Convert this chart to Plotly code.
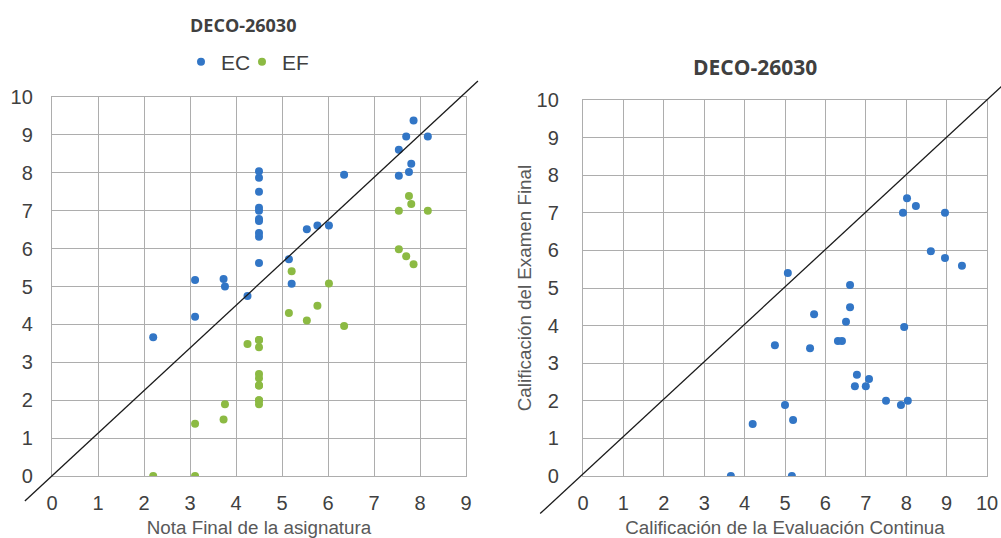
import plotly.graph_objects as go

# ---- data: one entry per student ----
nota_final = [7.76, 7.81, 7.54, 8.17, 7.54, 7.70, 7.86, 5.21, 6.02, 5.77, 5.15, 5.54, 6.35, 4.25,
              4.5, 4.5, 4.5, 4.5, 4.5, 4.5, 4.5, 4.5, 4.5, 4.5,
              3.76, 3.11, 3.73, 3.11, 2.20]
ec = [8.02, 8.24, 7.92, 8.96, 8.61, 8.96, 9.38, 5.07, 6.61, 6.61, 5.72, 6.51, 7.95, 4.75,
      5.62, 6.31, 6.41, 6.78, 7.08, 6.73, 7.00, 7.50, 7.87, 8.04,
      5.00, 4.20, 5.20, 5.17, 3.66]
ef = [7.39, 7.18, 7.00, 7.00, 5.98, 5.80, 5.59, 5.40, 5.08, 4.49, 4.30, 4.10, 3.96, 3.48,
      3.40, 3.59, 3.59, 2.69, 2.58, 2.39, 2.39, 2.00, 1.89, 2.00,
      1.89, 1.38, 1.49, 0.00, 0.00]

title_text = "DECO-26030"
series_names = ["EC", "EF"]
left_x_title = "Nota Final de la asignatura"
right_x_title = "Calificación de la Evaluación Continua"
right_y_title = "Calificación del Examen Final"

left_x_range = [0, 9]
left_y_range = [0, 10]
right_x_range = [0, 10]
right_y_range = [0, 10]

# reference diagonals (data units)
diag_left_x = [-0.59, 9.26]
diag_left_y = [-0.66, 10.42]
diag_right_x = [-1.06, 10.6]
diag_right_y = [-1.0, 10.6]

BLUE = "#3276C6"
GREEN = "#8CBA43"
GRID = "#ADADAD"
TXT = "#404040"

fig = go.Figure()
fig.add_trace(go.Scatter(x=nota_final, y=ec, mode="markers", name=series_names[0],
                         marker=dict(color=BLUE, size=8), xaxis="x", yaxis="y", legendwidth=16))
fig.add_trace(go.Scatter(x=nota_final, y=ef, mode="markers", name=series_names[1],
                         marker=dict(color=GREEN, size=8), xaxis="x", yaxis="y"))
fig.add_trace(go.Scatter(x=ec, y=ef, mode="markers", showlegend=False,
                         marker=dict(color=BLUE, size=8), xaxis="x2", yaxis="y2"))


def to_domain(vals, rng):
    return [(v - rng[0]) / (rng[1] - rng[0]) for v in vals]


lx = to_domain(diag_left_x, left_x_range)
ly = to_domain(diag_left_y, left_y_range)
rx = to_domain(diag_right_x, right_x_range)
ry = to_domain(diag_right_y, right_y_range)
fig.add_shape(type="line", xref="x domain", yref="y domain", x0=lx[0], y0=ly[0], x1=lx[1], y1=ly[1],
              line=dict(color="#1a1a1a", width=1.3), layer="above")
fig.add_shape(type="line", xref="x2 domain", yref="y2 domain", x0=rx[0], y0=ry[0], x1=rx[1], y1=ry[1],
              line=dict(color="#1a1a1a", width=1.3), layer="above")

W, H = 1001, 538
FAM = "Liberation Sans, Arial, sans-serif"
tickfont = dict(family=FAM, size=20, color=TXT)
titlefont = dict(family=FAM, size=18.8, color="#595959")

common = dict(showgrid=True, gridcolor=GRID, gridwidth=1.3, showline=True, linecolor=GRID,
              linewidth=1.3, mirror=True, zeroline=False, tickfont=tickfont, dtick=1,
              ticks="outside", tickcolor="rgba(0,0,0,0)", fixedrange=True, automargin=False)

fig.update_layout(
    width=W, height=H,
    margin=dict(l=0, r=0, t=0, b=0),
    paper_bgcolor="white", plot_bgcolor="white",
    xaxis=dict(domain=[52 / W, 466 / W], range=left_x_range, anchor="y", ticklen=9,
               title=dict(text=left_x_title, font=titlefont, standoff=8), **common),
    yaxis=dict(domain=[(H - 476) / H, (H - 97) / H], range=left_y_range, anchor="x", ticklen=14,
               **common),
    xaxis2=dict(domain=[583 / W, 987 / W], range=right_x_range, anchor="y2", ticklen=9,
                title=dict(text=right_x_title, font=titlefont, standoff=8), **common),
    yaxis2=dict(domain=[(H - 476) / H, (H - 100) / H], range=right_y_range, anchor="x2", ticklen=19,
                title=dict(text=right_y_title, font=titlefont, standoff=0), **common),
    legend=dict(orientation="h", x=181 / W, xanchor="left", y=(H - 62) / H, yanchor="middle",
                font=dict(family=FAM, size=21, color=TXT),
                itemwidth=30, tracegroupgap=0, bgcolor="rgba(0,0,0,0)"),
    annotations=[
        dict(text="<b>" + title_text + "</b>", x=243 / W, y=(H - 25) / H, xref="paper", yref="paper",
             showarrow=False, xanchor="center", yanchor="middle",
             font=dict(family="Open Sans, sans-serif", size=18, color=TXT)),
        dict(text="<b>" + title_text + "</b>", x=755 / W, y=(H - 67) / H, xref="paper", yref="paper",
             showarrow=False, xanchor="center", yanchor="middle",
             font=dict(family="Open Sans, sans-serif", size=21, color=TXT)),
    ],
)

fig.write_html("out.html")
